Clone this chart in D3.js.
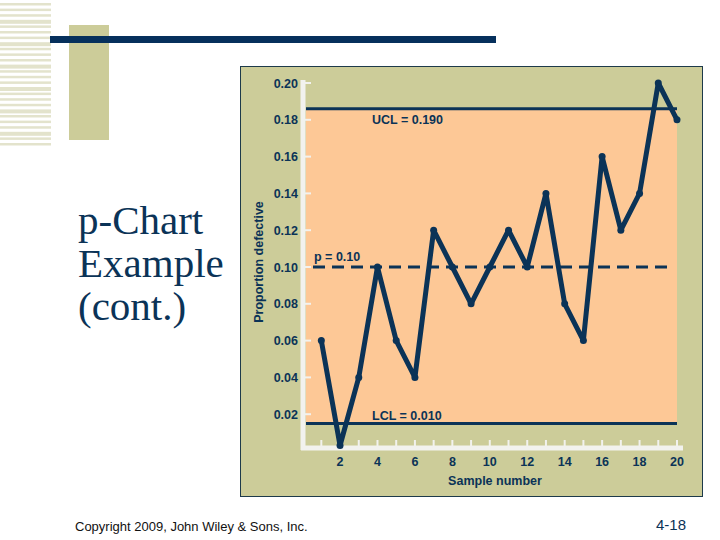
<!DOCTYPE html><html><head><meta charset="utf-8">
<script src="https://cdn.jsdelivr.net/npm/d3@7"></script>
<style>body{margin:0;background:#fff}</style></head><body>
<script>
const samples = d3.range(1,21);
const proportions = [0.06,0.003,0.04,0.10,0.06,0.04,0.12,0.10,0.08,0.10,0.12,0.10,0.14,0.08,0.06,0.16,0.12,0.14,0.20,0.18];
const yTicks = [0.02,0.04,0.06,0.08,0.10,0.12,0.14,0.16,0.18,0.20];
const xTicks = [2,4,6,8,10,12,14,16,18,20];
const uclPos = 0.186, lclPos = 0.015, center = 0.10;
const navy = "#0b3357";
const svg = d3.select("body").append("svg").attr("width",720).attr("height",540);
// decoration
for (let i=0;i<26;i++){ svg.append("rect").attr("x",0).attr("y",3+i*5.6).attr("width",51).attr("height",i%4==3?4:2.5).attr("fill","#e3e3cc"); }
svg.append("rect").attr("x",69).attr("y",25).attr("width",40).attr("height",115).attr("fill","#cccc99");
svg.append("rect").attr("x",50).attr("y",36).attr("width",446).attr("height",7).attr("fill","#06305c");
["p-Chart","Example","(cont.)"].forEach((t,i)=>svg.append("text").attr("x",78).attr("y",234+i*43)
  .attr("font-family","Liberation Serif").attr("font-size",41).attr("fill",navy).text(t));
// panel
svg.append("rect").attr("x",240.5).attr("y",66.5).attr("width",462).attr("height",430).attr("fill","#cccc99").attr("stroke","#1d3a4a");
const x = d3.scaleLinear().domain([0,20]).range([302.6,677]);
const y = d3.scaleLinear().domain([0,0.20]).range([451,83]);
svg.append("rect").attr("x",306).attr("y",y(uclPos)).attr("width",x(20)-306).attr("height",y(lclPos)-y(uclPos)).attr("fill","#fdc896");
[uclPos,lclPos].forEach(v=>svg.append("line").attr("x1",306).attr("x2",x(20)).attr("y1",y(v)).attr("y2",y(v)).attr("stroke",navy).attr("stroke-width",3));
svg.append("line").attr("x1",313).attr("x2",x(19.7)).attr("y1",y(center)).attr("y2",y(center)).attr("stroke",navy).attr("stroke-width",3).attr("stroke-dasharray","12,7");
// axes
svg.append("line").attr("x1",303).attr("x2",303).attr("y1",80).attr("y2",450).attr("stroke","#f2f2ee").attr("stroke-width",5);
svg.append("line").attr("x1",301).attr("x2",683).attr("y1",448).attr("y2",448).attr("stroke","#f2f2ee").attr("stroke-width",5);
svg.selectAll(".yt").data(yTicks).join("line").attr("x1",303).attr("x2",311).attr("y1",d=>y(d)).attr("y2",d=>y(d)).attr("stroke","#f2f2ee").attr("stroke-width",2);
svg.selectAll(".xt").data(samples).join("line").attr("x1",d=>x(d)).attr("x2",d=>x(d)).attr("y1",440).attr("y2",448).attr("stroke","#f2f2ee").attr("stroke-width",2);
const lab = {"font-family":"Liberation Sans","font-weight":"bold","font-size":12.5,"fill":navy};
function st(s){for(const k in lab)s.attr(k,lab[k]);return s;}
st(svg.selectAll(".yl").data(yTicks).join("text").attr("x",298).attr("y",d=>y(d)+4.5).attr("text-anchor","end").text(d=>d.toFixed(2)));
st(svg.selectAll(".xl").data(xTicks).join("text").attr("x",d=>x(d)).attr("y",466).attr("text-anchor","middle").text(d=>d));
st(svg.append("text").attr("x",495).attr("y",485).attr("text-anchor","middle").text("Sample number"));
st(svg.append("text").attr("transform","translate(263,262) rotate(-90)").attr("text-anchor","middle").attr("font-size",12).text("Proportion defective"));
st(svg.append("text").attr("x",372).attr("y",124).text("UCL = 0.190"));
st(svg.append("text").attr("x",372).attr("y",420).text("LCL = 0.010"));
st(svg.append("text").attr("x",314).attr("y",261).text("p = 0.10"));
// data
svg.append("path").datum(proportions).attr("fill","none").attr("stroke",navy).attr("stroke-width",5).attr("stroke-linejoin","round")
  .attr("d",d3.line().x((d,i)=>x(samples[i])).y(d=>y(d)));
svg.selectAll(".pt").data(proportions).join("circle").attr("cx",(d,i)=>x(samples[i])).attr("cy",d=>y(d)).attr("r",3.5).attr("fill",navy);
svg.append("text").attr("x",75).attr("y",531).attr("font-family","Liberation Sans").attr("font-size",13).attr("fill","#111").text("Copyright 2009, John Wiley & Sons, Inc.");
svg.append("text").attr("x",686).attr("y",530).attr("text-anchor","end").attr("font-family","Liberation Sans").attr("font-size",15).attr("fill",navy).text("4-18");
</script></body></html>
